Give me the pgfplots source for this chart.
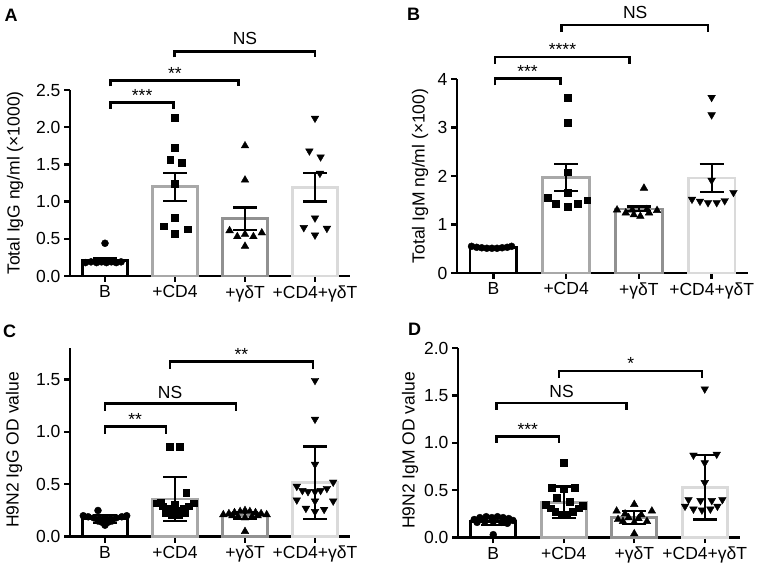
\documentclass[border=0pt]{standalone}
\usepackage{fontspec}
\setmainfont{Liberation Sans}
\usepackage{pgfplots}
\pgfplotsset{compat=1.18}
\definecolor{cCD}{RGB}{168,168,168}
\definecolor{cGD}{RGB}{145,145,145}
\definecolor{cBoth}{RGB}{218,218,218}
\newcommand{\fs}{\fontsize{17.5}{20}\selectfont}
\newcommand{\fst}{\fontsize{17.5}{20}\selectfont}
\tikzset{
  sigstar/.style={anchor=south, inner sep=0pt, font=\fst, yshift=1pt},
  signs/.style={anchor=south, inner sep=0pt, font=\fs, yshift=6pt},
}
\pgfplotsset{
  panel/.style={
    scale only axis, clip=false,
    axis lines=left, axis line style={-, line width=2.4pt},
    xmin=-0.5, xmax=3.5, ymin=0,
    xtick={0,1,2,3}, xticklabels={B,+CD4,+γδT,+CD4+γδT},
    tick style={line width=2.4pt, black}, tick align=outside, major tick length=6pt,
    minor tick num=0,
    tick label style={font=\fs},
    /pgf/number format/assume math mode=true,
    label style={font=\fs},
    anchor=south west,
  },
  mybar/.style={ybar, bar shift=0pt, bar width=0.64, fill=white, line width=2.8pt},
  pts/.style={only marks, black, mark size=3.5pt},
  sq/.style={only marks, black, mark=square*, mark size=3.4pt},
  tri/.style={only marks, black, mark=triangle*, mark size=4.4pt},
  itri/.style={only marks, black, mark=triangle*, mark size=4.4pt, mark options={rotate=180}},
  myerr/.style={draw=none, mark=none, forget plot, error bars/.cd, y dir=both, y explicit,
     error bar style={draw=black, line width=2.2pt},
     error mark options={draw=black, line width=2.2pt, mark size=12pt, rotate=90}},
  brk/.style={black, line width=2.6pt, mark=none},
}
\begin{document}
\begin{tikzpicture}
\path[use as bounding box] (0,0) rectangle (758pt,567pt);
% ---------------- A ----------------
\begin{axis}[panel, at={(70pt,291pt)}, width=280pt, height=186pt, ymax=2.5,
  ytick={0,0.5,1,1.5,2,2.5},
  yticklabel style={/pgf/number format/.cd, fixed, fixed zerofill, precision=1},
  ylabel={Total IgG ng/ml (×1000)},
  ylabel style={at={(axis description cs:-0.196,0.5)}, anchor=center, rotate=0}]
\addplot[mybar, draw=black] coordinates {(0,0.21)};
\addplot[mybar, draw=cCD] coordinates {(1,1.20)};
\addplot[mybar, draw=cGD] coordinates {(2,0.77)};
\addplot[mybar, draw=cBoth] coordinates {(3,1.19)};
\addplot[pts, mark=*] coordinates {(-0.28,0.18) (-0.2,0.19) (-0.12,0.18) (-0.05,0.19) (0.02,0.18) (0.09,0.19) (0.16,0.18) (0.23,0.19) (0,0.44)};
\addplot[sq] coordinates {(1.0,2.13) (1.0,1.72) (0.93,1.56) (1.09,1.52) (1.0,1.24) (1.0,0.78) (0.84,0.67) (1.0,0.57) (1.18,0.63)};
\addplot[tri] coordinates {(1.78,0.61) (1.89,0.53) (2.0,0.56) (2.12,0.53) (2.24,0.58) (2.0,0.40) (2.0,1.29) (2.0,1.75)};
\addplot[itri] coordinates {(3,2.12) (2.92,1.68) (3.08,1.60) (3.07,1.38) (3,0.78) (2.84,0.65) (3.17,0.64) (3,0.55)};
\addplot[myerr] coordinates {(0,0.21) +- (0,0.03) (1,1.20) += (0,0.18) -= (0,0.19) (2,0.77) +- (0,0.15) (3,1.19) +- (0,0.19)};
\addplot[brk] coordinates {(0.08,2.25) (0.08,2.33) (0.98,2.33) (0.98,2.25)};
\addplot[brk] coordinates {(0.08,2.55) (0.08,2.63) (1.91,2.63) (1.91,2.55)};
\addplot[brk] coordinates {(0.99,2.94) (0.99,3.02) (3.0,3.02) (3.0,2.94)};
\node[sigstar] at (axis cs:0.53,2.33) {***};
\node[sigstar] at (axis cs:1.0,2.63) {**};
\node[signs] at (axis cs:2.0,3.02) {NS};
\end{axis}
% ---------------- B ----------------
\begin{axis}[panel, at={(457pt,294pt)}, width=291pt, height=194pt, ymax=4,
  ytick={0,1,2,3,4},
  ylabel={Total IgM ng/ml (×100)},
  ylabel style={at={(axis description cs:-0.127,0.5)}, anchor=center, rotate=0}]
\addplot[mybar, draw=black] coordinates {(0,0.52)};
\addplot[mybar, draw=cCD] coordinates {(1,1.97)};
\addplot[mybar, draw=cGD] coordinates {(2,1.32)};
\addplot[mybar, draw=cBoth] coordinates {(3,1.96)};
\addplot[pts, mark=*] coordinates {(-0.3,0.55) (-0.23,0.53) (-0.16,0.52) (-0.09,0.51) (-0.02,0.51) (0.05,0.51) (0.12,0.52) (0.19,0.53) (0.25,0.55)};
\addplot[sq] coordinates {(1.02,3.62) (1.02,3.10) (1.02,2.08) (1.02,1.65) (0.75,1.56) (0.86,1.43) (1.02,1.37) (1.16,1.43) (1.29,1.50)};
\addplot[tri] coordinates {(2.07,1.75) (1.7,1.30) (1.82,1.24) (1.93,1.20) (2.02,1.17) (2.14,1.24) (2.25,1.29) (1.91,1.30) (2.11,1.31)};
\addplot[itri] coordinates {(3,3.62) (3,3.26) (3,1.91) (2.73,1.52) (2.84,1.48) (2.95,1.45) (3.07,1.45) (3.18,1.49) (3.3,1.66)};
\addplot[myerr] coordinates {(0,0.52) +- (0,0.02) (1,1.97) += (0,0.27) -= (0,0.28) (2,1.32) +- (0,0.05) (3,1.96) += (0,0.28) -= (0,0.29)};
\addplot[brk] coordinates {(0.02,3.87) (0.02,4.01) (0.92,4.01) (0.92,3.87)};
\addplot[brk] coordinates {(0.02,4.31) (0.02,4.45) (1.87,4.45) (1.87,4.31)};
\addplot[brk] coordinates {(0.94,4.97) (0.94,5.11) (2.95,5.11) (2.95,4.97)};
\node[sigstar] at (axis cs:0.47,4.01) {***};
\node[sigstar] at (axis cs:0.95,4.45) {****};
\node[signs] at (axis cs:1.95,5.11) {NS};
\end{axis}
% ---------------- C ----------------
\begin{axis}[panel, at={(70pt,30.3pt)}, width=280pt, height=188.7pt, ymax=1.8,
  ytick={0,0.5,1,1.5},
  yticklabel style={/pgf/number format/.cd, fixed, fixed zerofill, precision=1},
  ylabel={H9N2 IgG OD value},
  ylabel style={at={(axis description cs:-0.2,0.46)}, anchor=center, rotate=0}]
\addplot[mybar, draw=black] coordinates {(0,0.17)};
\addplot[mybar, draw=cCD] coordinates {(1,0.36)};
\addplot[mybar, draw=cGD] coordinates {(2,0.20)};
\addplot[mybar, draw=cBoth] coordinates {(3,0.52)};
\addplot[pts, mark=*] coordinates {(-0.1,0.25) (-0.31,0.2) (-0.24,0.19) (-0.16,0.18) (-0.08,0.17) (0,0.18) (0.08,0.17) (0.16,0.18) (0.24,0.19) (0.31,0.2) (-0.05,0.14) (0.05,0.14) (0,0.11) (-0.1,0.15) (0.1,0.15)};
\addplot[sq] coordinates {(0.92,0.86) (1.07,0.86) (1.16,0.42) (0.74,0.32) (0.82,0.29) (0.9,0.27) (0.97,0.26) (1.04,0.25) (1.12,0.27) (1.2,0.29) (1.27,0.32) (0.86,0.23) (0.95,0.21) (1.05,0.21) (1.14,0.23) (1.0,0.31) (0.8,0.33)};
\addplot[tri] coordinates {(1.69,0.21) (1.77,0.22) (1.85,0.23) (1.93,0.24) (2.0,0.25) (2.07,0.24) (2.15,0.23) (2.23,0.22) (2.31,0.21) (1.9,0.19) (2.0,0.18) (2.1,0.19) (1.82,0.2) (2.18,0.2) (2.0,0.05)};
\addplot[itri] coordinates {(3,1.49) (3,1.12) (3,0.69) (2.74,0.48) (2.82,0.44) (2.9,0.43) (3,0.43) (3.08,0.44) (3.17,0.46) (3.26,0.52) (2.74,0.35) (3,0.34) (3.26,0.34) (2.87,0.27) (3,0.24) (3.13,0.26)};
\addplot[myerr] coordinates {(0,0.17) +- (0,0.04) (1,0.36) +- (0,0.21) (2,0.20) +- (0,0.035) (3,0.52) += (0,0.34) -= (0,0.35)};
\addplot[brk] coordinates {(0,0.98) (0,1.05) (0.87,1.05) (0.87,0.98)};
\addplot[brk] coordinates {(0,1.20) (0,1.27) (1.87,1.27) (1.87,1.20)};
\addplot[brk] coordinates {(0.93,1.60) (0.93,1.67) (2.97,1.67) (2.97,1.60)};
\node[sigstar] at (axis cs:0.43,1.05) {**};
\node[signs, yshift=-1pt] at (axis cs:0.93,1.27) {NS};
\node[sigstar] at (axis cs:1.95,1.67) {**};
\end{axis}
% ---------------- D ----------------
\begin{axis}[panel, at={(458pt,29.5pt)}, width=282pt, height=189.2pt, ymax=2,
  ytick={0,0.5,1,1.5,2},
  yticklabel style={/pgf/number format/.cd, fixed, fixed zerofill, precision=1},
  ylabel={H9N2 IgM OD value},
  ylabel style={at={(axis description cs:-0.17,0.46)}, anchor=center, rotate=0}]
\addplot[mybar, draw=black] coordinates {(0,0.17)};
\addplot[mybar, draw=cCD] coordinates {(1,0.37)};
\addplot[mybar, draw=cGD] coordinates {(2,0.21)};
\addplot[mybar, draw=cBoth] coordinates {(3,0.53)};
\addplot[pts, mark=*] coordinates {(-0.27,0.19) (-0.19,0.21) (-0.1,0.22) (-0.02,0.21) (0.06,0.22) (0.14,0.21) (0.22,0.2) (0.28,0.18) (-0.23,0.16) (-0.12,0.17) (0,0.17) (0.12,0.16) (0.2,0.15) (0,0.03)};
\addplot[sq] coordinates {(1,0.79) (0.83,0.53) (1,0.52) (1.16,0.53) (0.9,0.42) (1.08,0.38) (0.74,0.35) (0.81,0.31) (0.88,0.27) (0.97,0.24) (1.05,0.24) (1.13,0.27) (1.21,0.31) (1.27,0.34)};
\addplot[tri] coordinates {(2,0.35) (1.75,0.28) (2.25,0.28) (1.87,0.25) (2.1,0.24) (1.92,0.21) (2.06,0.2) (1.77,0.19) (2.18,0.17) (2,0.16) (1.84,0.17) (2,0.04)};
\addplot[itri] coordinates {(3,1.57) (2.84,0.87) (3.17,0.88) (3,0.79) (3,0.58) (2.77,0.40) (2.94,0.39) (3.1,0.39) (3.25,0.40) (2.72,0.33) (3.18,0.33) (2.84,0.30) (2.96,0.29) (3.08,0.30)};
\addplot[myerr] coordinates {(0,0.17) +- (0,0.04) (1,0.37) += (0,0.17) -= (0,0.16) (2,0.21) +- (0,0.07) (3,0.53) += (0,0.34) -= (0,0.34)};
\addplot[brk] coordinates {(0.05,1.0) (0.05,1.07) (0.93,1.07) (0.93,1.0)};
\addplot[brk] coordinates {(0.05,1.35) (0.05,1.42) (1.89,1.42) (1.89,1.35)};
\addplot[brk] coordinates {(0.93,1.69) (0.93,1.76) (2.96,1.76) (2.96,1.69)};
\node[sigstar] at (axis cs:0.49,1.07) {***};
\node[signs, yshift=-1pt] at (axis cs:0.97,1.42) {NS};
\node[sigstar] at (axis cs:1.95,1.76) {*};
\end{axis}
% panel letters
\node[font=\fontsize{18}{20}\selectfont\bfseries] at (11pt,551.5pt) {A};
\node[font=\fontsize{18}{20}\selectfont\bfseries] at (413.5pt,552.5pt) {B};
\node[font=\fontsize{18}{20}\selectfont\bfseries] at (9.5pt,235.5pt) {C};
\node[font=\fontsize{18}{20}\selectfont\bfseries] at (414.5pt,237.5pt) {D};
\end{tikzpicture}
\end{document}
